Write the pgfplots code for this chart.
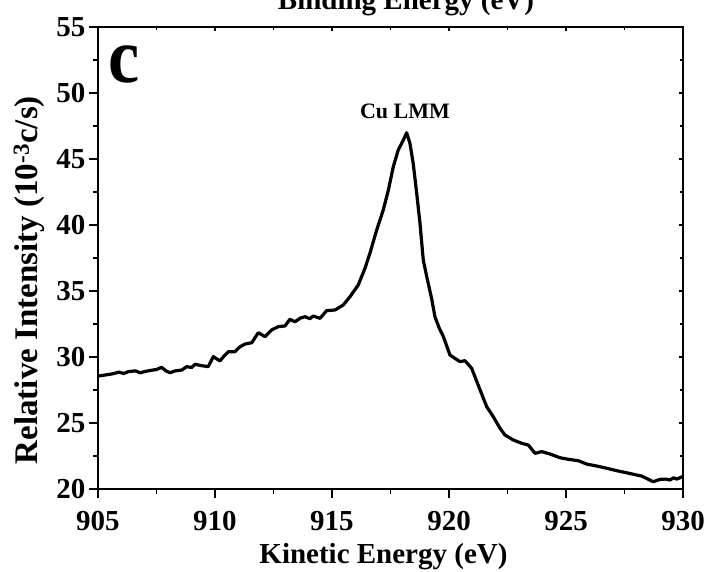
\documentclass[border=0pt]{standalone}
\usepackage{fontspec}
\setmainfont{Liberation Serif}
\usepackage{pgfplots}
\pgfplotsset{compat=1.18}
\usetikzlibrary{calc}
\begin{document}
\begin{tikzpicture}[font=\fontsize{29}{34}\selectfont\bfseries]
\begin{axis}[name=ax, scale only axis, width=585pt, height=462pt,
  xmin=905, xmax=930, ymin=20, ymax=55,
  xtick={905,910,...,930}, ytick={20,25,...,55},
  minor x tick num=1, minor y tick num=1,
  xtick pos=left, ytick pos=left, tick align=outside,
  major tick length=9pt, minor tick length=5pt,
  axis line style={line width=1.5pt},
  every tick/.style={line width=1.3pt, black},
  tick label style={font=\fontsize{29}{34}\selectfont\bfseries},
  xticklabel style={yshift=-10pt},
  /pgf/number format/assume math mode=true,
  /pgf/number format/set thousands separator={},
  xlabel={Kinetic Energy (eV)},
  ylabel={Relative Intensity (10\textsuperscript{-3}c/s)},
  xlabel style={at={(rel axis cs:0.488,-0.1602)}, anchor=base, font=\fontsize{29}{34}\selectfont\bfseries},
  ylabel style={at={(rel axis cs:-0.1026,0.452)}, anchor=base, font=\fontsize{33}{38}\selectfont\bfseries},
  clip=false]
\addplot[black, line width=3.2pt, line join=round] coordinates {
(905.00,28.55) (905.25,28.62) (905.58,28.71) (905.9,28.85) (906.1,28.75)
(906.3,28.89) (906.6,28.95) (906.8,28.8) (907.0,28.9) (907.3,29.0)
(907.5,29.05) (907.72,29.22) (907.9,28.95) (908.08,28.81) (908.3,28.95)
(908.58,29.01) (908.79,29.27) (909.0,29.2) (909.15,29.45) (909.4,29.35)
(909.71,29.27) (909.93,30.03) (910.21,29.70) (910.4,30.1) (910.57,30.40)
(910.85,30.40) (911.05,30.75) (911.28,30.98) (911.57,31.08) (911.85,31.84)
(912.14,31.54) (912.42,32.05) (912.71,32.30) (912.99,32.35) (913.2,32.85)
(913.42,32.67) (913.65,32.95) (913.85,33.05) (914.05,32.9) (914.2,33.1)
(914.49,32.93) (914.77,33.51) (915.13,33.56) (915.48,33.94) (915.77,34.57)
(916.12,35.45) (916.41,36.72) (916.62,37.86) (916.91,39.62) (917.19,41.14)
(917.41,42.65) (917.62,44.42) (917.83,45.68) (918.05,46.44) (918.19,46.99)
(918.33,46.19) (918.47,44.67) (918.62,42.40) (918.76,40.13) (918.90,37.35)
(919.05,36.08) (919.26,34.4) (919.40,33.05) (919.58,32.2) (919.76,31.54)
(920.04,30.15) (920.25,29.9) (920.47,29.65) (920.68,29.72) (920.97,29.14)
(921.30,27.63) (921.61,26.24) (921.89,25.48) (922.18,24.60) (922.39,24.09)
(922.75,23.71) (923.11,23.46) (923.39,23.33) (923.68,22.70) (923.96,22.83)
(924.32,22.65) (924.74,22.37) (925.10,22.25) (925.53,22.14) (925.88,21.89)
(926.31,21.74) (926.74,21.57) (927.16,21.39) (927.59,21.23) (928.02,21.06)
(928.23,20.98) (928.5,20.75) (928.73,20.55) (929.02,20.73) (929.25,20.75)
(929.44,20.68) (929.6,20.85) (929.73,20.75) (930.0,20.95)
};
\node[anchor=base, font=\fontsize{22}{25}\selectfont\bfseries] at (axis cs:918.12,48.03) {Cu LMM};
\node[anchor=base west, inner sep=0pt, font=\fontsize{78}{80}\selectfont\bfseries] at (axis cs:905.43,50.76) {\scalebox{0.9}[1]{c}};
\end{axis}
\begin{axis}[at={(ax.south west)}, anchor=south west, scale only axis, width=585pt, height=462pt,
  xmin=905, xmax=930, ymin=20, ymax=55,
  xtick={905,910,...,930}, ytick={20,25,...,55},
  minor x tick num=1, minor y tick num=1,
  xtick pos=right, ytick pos=right, tick align=inside,
  major tick length=4pt, minor tick length=3pt,
  axis line style={line width=1.5pt},
  every tick/.style={line width=1.2pt, black},
  xticklabels={}, yticklabels={}]
\end{axis}
\node[anchor=base] at ($(ax.south west)+(308pt,479pt)$) {Binding Energy (eV)};
\pgfresetboundingbox
\useasboundingbox ($(ax.south west)+(-98pt,-83pt)$) rectangle ++(710pt,572pt);
\end{tikzpicture}
\end{document}
